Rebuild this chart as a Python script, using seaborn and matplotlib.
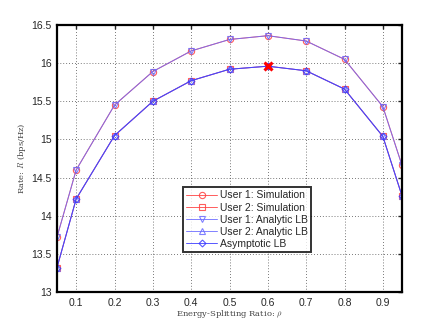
import matplotlib
matplotlib.use("Agg")
import matplotlib.pyplot as plt
import seaborn as sns
import pandas as pd

rho = [0.05, 0.1, 0.2, 0.3, 0.4, 0.5, 0.6, 0.7, 0.8, 0.9, 0.95]
user1 = [13.72, 14.60, 15.45, 15.89, 16.16, 16.31, 16.36, 16.29, 16.05, 15.43, 14.66]
user2 = [13.32, 14.22, 15.05, 15.50, 15.77, 15.92, 15.96, 15.90, 15.66, 15.04, 14.26]
opt_rho = [0.6]
opt_rate = [15.96]
xticks = [0.1, 0.2, 0.3, 0.4, 0.5, 0.6, 0.7, 0.8, 0.9]
yticks = [13, 13.5, 14, 14.5, 15, 15.5, 16, 16.5]

sns.set_style("white")
plt.rcParams['font.family'] = ['Liberation Sans', 'DejaVu Sans']
plt.rcParams['mathtext.fontset'] = 'cm'

fig = plt.figure(figsize=(4.44, 3.29), dpi=100)
ax = fig.add_axes([57/444, 1-292/329, 345/444, 267/329])

series = [
    ("User 1: Simulation", user1, "#ff4040", "o", 4.5),
    ("User 2: Simulation", user2, "#ff4040", "s", 4.0),
    ("User 1: Analytic LB", user1, "#6a6aff", "v", 4.5),
    ("User 2: Analytic LB", user2, "#6a6aff", "^", 4.5),
    ("Asymptotic LB", user2, "#3a3aff", "D", 3.5),
]
for name, vals, col, mk, ms in series:
    df = pd.DataFrame({"rho": rho, "rate": vals})
    sns.lineplot(data=df, x="rho", y="rate", ax=ax, color=col, marker=mk,
                 markersize=ms, markerfacecolor="none",
                 markeredgecolor=col, markeredgewidth=0.8, linewidth=0.7,
                 label=name, alpha=0.85)

ax.plot(opt_rho, opt_rate, linestyle="none", marker="x", color="red",
        markersize=6, markeredgewidth=2.2)

ax.set_xlim(0.05, 0.95)
ax.set_ylim(13, 16.5)
ax.set_xticks(xticks)
ax.set_xticklabels([f"{t:g}" for t in xticks])
ax.set_yticks(yticks)
ax.set_yticklabels([f"{t:g}" for t in yticks])
ax.tick_params(direction="in", top=True, right=True, length=3, width=1,
               labelsize=7.5, pad=4)
ax.grid(True, linestyle=(0, (1, 2.5)), color="black", linewidth=0.6, alpha=0.7)
for s in ax.spines.values():
    s.set_linewidth(1.6)
    s.set_color("black")

ax.set_xlabel(r"Energy-Splitting Ratio: $\rho$", fontsize=6,
              family=['DejaVu Serif'], color="#444444", labelpad=0)
ax.set_ylabel(r"Rate: $R$ (bps/Hz)", fontsize=6,
              family=['DejaVu Serif'], color="#444444", labelpad=2)

leg = ax.legend(loc="lower left", bbox_to_anchor=(0.365, 0.15), fontsize=7.5,
                frameon=True, fancybox=False, borderpad=0.3, labelspacing=0.2,
                handlelength=3, handletextpad=0.3, borderaxespad=0)
leg.get_frame().set_edgecolor("black")
leg.get_frame().set_linewidth(1.4)

fig.savefig("out.png", dpi=100)
